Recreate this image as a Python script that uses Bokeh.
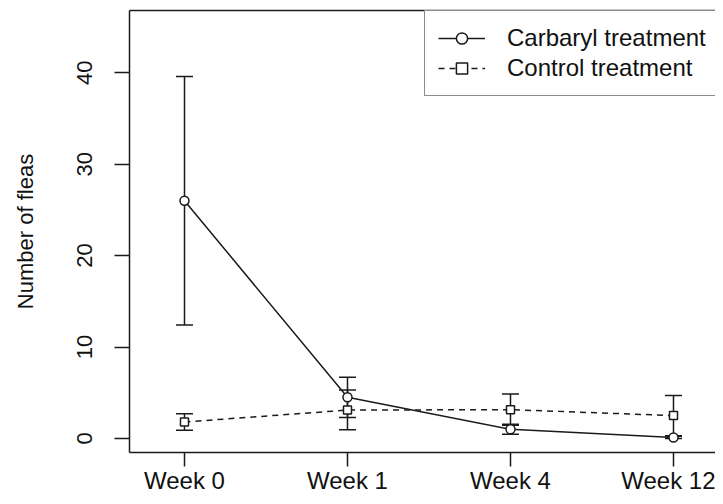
from bokeh.plotting import figure
from bokeh.models import (ColumnDataSource, Whisker, TeeHead, FixedTicker, LinearAxis,
                          Range1d, Legend, LegendItem)
from bokeh.embed import file_html
from bokeh.resources import INLINE

# ---- data ----
weeks = ["Week 0", "Week 1", "Week 4", "Week 12"]
carbaryl_mean = [26.0, 4.5, 1.0, 0.1]
carbaryl_lower = [12.4, 2.3, 0.45, 0.0]
carbaryl_upper = [39.6, 6.7, 1.55, 0.25]
control_mean = [1.8, 3.1, 3.15, 2.5]
control_lower = [0.9, 0.95, 1.45, 0.3]
control_upper = [2.7, 5.3, 4.85, 4.7]
y_ticks = [0, 10, 20, 30, 40]

xpos = [i + 1 for i in range(len(weeks))]
INK = "#1a1a1a"
FONT = "Liberation Sans"

src_c = ColumnDataSource(dict(x=xpos, y=carbaryl_mean, lo=carbaryl_lower, hi=carbaryl_upper))
src_k = ColumnDataSource(dict(x=xpos, y=control_mean, lo=control_lower, hi=control_upper))

p = figure(width=715, height=496, output_backend="svg", toolbar_location=None,
           x_range=Range1d(0.6626, 4.2577), y_range=Range1d(-1.538, 46.81),
           min_border_left=129, min_border_right=0, min_border_top=10, min_border_bottom=40)
p.outline_line_color = None
p.grid.visible = False
p.background_fill_color = "white"
p.border_fill_color = "white"

# axes
p.xaxis.ticker = FixedTicker(ticks=xpos)
p.xaxis.major_label_overrides = {x: w for x, w in zip(xpos, weeks)}
p.yaxis.ticker = FixedTicker(ticks=y_ticks)
p.yaxis.axis_label = "Number of fleas"
p.yaxis.major_label_orientation = "vertical"
for ax in (p.xaxis[0], p.yaxis[0]):
    ax.axis_line_color = INK
    ax.axis_line_width = 1.5
    ax.major_tick_line_color = INK
    ax.major_tick_line_width = 1.5
    ax.major_tick_in = 0
    ax.minor_tick_line_color = None
    ax.major_label_text_font = FONT
    ax.major_label_text_color = "#111111"
    ax.axis_label_text_font = FONT
    ax.axis_label_text_font_style = "normal"
    ax.axis_label_text_color = "#111111"
p.xaxis.major_tick_out = 14
p.yaxis.major_tick_out = 15
p.xaxis.major_label_text_font_size = "24px"
p.xaxis.major_label_standoff = 0
p.yaxis.major_label_text_font_size = "22px"
p.yaxis.major_label_standoff = 22
p.yaxis.axis_label_text_font_size = "22px"
p.yaxis.axis_label_standoff = 37

top = LinearAxis(major_tick_line_color=None, minor_tick_line_color=None,
                 major_tick_out=0, major_tick_in=0, major_label_standoff=0,
                 major_label_text_font_size="0px", axis_line_color=INK, axis_line_width=1.5)
top.ticker = FixedTicker(ticks=[])
p.add_layout(top, "above")

# error bars
for src in (src_c, src_k):
    w = Whisker(base="x", lower="lo", upper="hi", source=src, dimension="height",
                line_color=INK, line_width=1.5,
                upper_head=TeeHead(size=17, line_color=INK, line_width=1.5),
                lower_head=TeeHead(size=17, line_color=INK, line_width=1.5))
    p.add_layout(w)

# lines and points
lc = p.line("x", "y", source=src_c, line_color=INK, line_width=1.5)
lk = p.line("x", "y", source=src_k, line_color=INK, line_width=1.5, line_dash="6 5")
sc = p.scatter("x", "y", source=src_c, marker="circle", size=9, fill_color="white",
               line_color=INK, line_width=1.5)
sk = p.scatter("x", "y", source=src_k, marker="square", size=8, fill_color="white",
               line_color=INK, line_width=1.5)

legend = Legend(items=[LegendItem(label="Carbaryl treatment", renderers=[lc, sc]),
                       LegendItem(label="Control treatment", renderers=[lk, sk])],
                location=(295, 356), padding=13, spacing=2, glyph_width=47,
                glyph_height=28, label_height=28, label_standoff=22, label_width=400,
                label_text_font=FONT, label_text_font_size="24px", label_text_color="#111111",
                border_line_color=INK, border_line_width=1.5, background_fill_alpha=1.0,
                margin=0)
p.add_layout(legend, "center")

open("out.html", "w").write(file_html(p, INLINE))
